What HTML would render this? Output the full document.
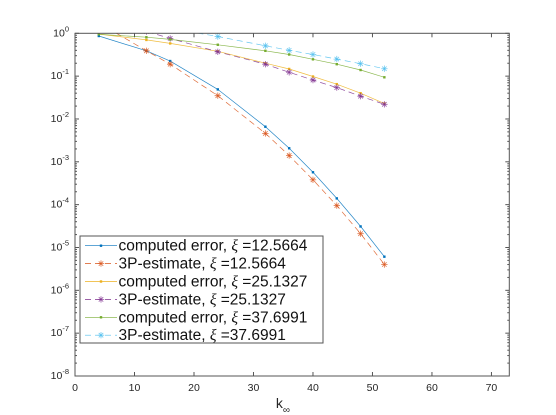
<!DOCTYPE html>
<html><head><meta charset="utf-8"><style>
html,body{margin:0;padding:0;background:#fff;}
svg{display:block;font-family:"Liberation Sans","DejaVu Sans",sans-serif;}
</style></head><body>
<svg id="chart" width="556" height="415" viewBox="0 0 556 415">
<defs><clipPath id="pc"><rect x="75" y="33.3" width="434.3" height="342.7"/></clipPath></defs>
<rect x="0" y="0" width="556" height="415" fill="#fff"/>
<g id="grid"></g>
<g id="series" clip-path="url(#pc)"></g>
<g id="axes"></g>
<g id="legend"></g>
</svg>
<script>
const xs = [4, 12, 16, 24, 32, 36, 40, 44, 48, 52];
const comp1 = [0.865, 0.39, 0.225, 0.049, 0.0066, 0.00207, 0.00057, 0.00014, 0.000031, 0.0000061];
const est1 = [1.75, 0.39, 0.19, 0.035, 0.0046, 0.0014, 0.00038, 0.000095, 0.000021, 0.000004];
const comp2 = [0.96, 0.70, 0.58, 0.38, 0.2, 0.147, 0.098, 0.065, 0.04, 0.023];
const est2 = [2.0, 1.1, 0.76, 0.37, 0.19, 0.123, 0.081, 0.054, 0.034, 0.022];
const comp3 = [0.95, 0.81, 0.72, 0.54, 0.39, 0.32, 0.247, 0.19, 0.139, 0.094];
const est3 = [2.5, 1.7, 1.3, 0.84, 0.51, 0.40, 0.32, 0.25, 0.195, 0.149];
const xTicks = [0, 10, 20, 30, 40, 50, 60, 70];
const yExps = [0, -1, -2, -3, -4, -5, -6, -7, -8];
const legendPrefix = ["computed error, ","3P-estimate, ","computed error, ","3P-estimate, ","computed error, ","3P-estimate, "];
const legendValues = ["12.5664","12.5664","25.1327","25.1327","37.6991","37.6991"];

const NS = "http://www.w3.org/2000/svg";
const X0 = 75, X1 = 509.3, XMAX = 73.0;
const Y0 = 33.3, Y1 = 376;
function sx(v){ return X0 + v / XMAX * (X1 - X0); }
function sy(v){ return Y0 + (-Math.log10(v)) / 8 * (Y1 - Y0); }
function mk(tag, attrs, parent){ const e = document.createElementNS(NS, tag); for (const k in attrs) e.setAttribute(k, attrs[k]); parent.appendChild(e); return e; }
function ts(parent, txt, attrs){ const t = document.createElementNS(NS,'tspan'); for (const k in (attrs||{})) t.setAttribute(k, attrs[k]); t.textContent = txt; parent.appendChild(t); return t; }
const axes = document.getElementById('axes');
const ser = document.getElementById('series');
const leg = document.getElementById('legend');
const AX = "#262626";

const box = mk('rect', {x:X0, y:Y0, width:X1-X0, height:Y1-Y0, fill:'none', stroke:'#555', 'stroke-width':1}, axes);



xTicks.forEach(t => {
  const x = sx(t);
  mk('line', {x1:x, y1:Y1, x2:x, y2:Y1-4, stroke:'#555'}, axes);
  mk('line', {x1:x, y1:Y0, x2:x, y2:Y0+4, stroke:'#555'}, axes);
  const tx = mk('text', {x:x, y:Y1+15, 'font-size':10.5, fill:AX, 'text-anchor':'middle'}, axes);
  tx.textContent = t;
  
  
});
yExps.forEach(e => {
  const y = sy(Math.pow(10, e));
  mk('line', {x1:X0, y1:y, x2:X0+4, y2:y, stroke:'#555'}, axes);
  mk('line', {x1:X1, y1:y, x2:X1-4, y2:y, stroke:'#555'}, axes);
  if (e > -8) for (let m = 2; m <= 9; m++) {
    const ym = sy(m * Math.pow(10, e - 1));
    mk('line', {x1:X0, y1:ym, x2:X0+2, y2:ym, stroke:'#555'}, axes);
    mk('line', {x1:X1, y1:ym, x2:X1-2, y2:ym, stroke:'#555'}, axes);
  }
  const tx = mk('text', {x:X0-6, y:y+3, 'font-size':10.5, fill:AX, 'text-anchor':'end'}, axes);
  
  
  ts(tx, '10');
  ts(tx, String(e), {dy:-5, 'font-size':7.5});
});
const xl = mk('text', {x:283, y:Y1+32, 'font-size':14, fill:AX, 'text-anchor':'middle'}, axes);


ts(xl, 'k');
ts(xl, '∞', {dy:5, 'font-size':10});

const seriesDefs = [
  {d:comp1, c:'#0072BD', dash:null, m:'dot', name:'computed-error-12'},
  {d:est1, c:'#D95319', dash:'6,4', m:'star', name:'estimate-12'},
  {d:comp2, c:'#EDB120', dash:null, m:'dot', name:'computed-error-25'},
  {d:est2, c:'#7E2F8E', dash:'6,4', m:'star', name:'estimate-25'},
  {d:comp3, c:'#77AC30', dash:null, m:'dot', name:'computed-error-37'},
  {d:est3, c:'#4DBEEE', dash:'6,4', m:'star', name:'estimate-37'}
];
function marker(g, x, y, c, m){
  if (m === 'dot') { mk('rect', {x:x-1.2, y:y-1.2, width:2.4, height:2.4, fill:c}, g); }
  else {
    const r = 3.2, p = [[-r,0,r,0],[0,-r,0,r],[-r*.7,-r*.7,r*.7,r*.7],[-r*.7,r*.7,r*.7,-r*.7]];
    p.forEach(q => mk('line', {x1:x+q[0], y1:y+q[1], x2:x+q[2], y2:y+q[3], stroke:c, 'stroke-width':0.8, 'stroke-opacity':0.8}, g));
  }
}
seriesDefs.forEach(s => {
  const g = mk('g', {}, ser);
  
  
  const pts = xs.map((x,i) => sx(x).toFixed(1) + ',' + sy(s.d[i]).toFixed(1)).join(' ');
  const a = {points:pts, fill:'none', stroke:s.c, 'stroke-width':0.7, 'stroke-opacity':0.85};
  if (s.dash) a['stroke-dasharray'] = s.dash;
  mk('polyline', a, g);
  xs.forEach((x,i) => marker(g, sx(x), sy(s.d[i]), s.c, s.m));
});

const lb = mk('rect', {x:80, y:236, width:243, height:107, fill:'#fff', stroke:'#555', 'stroke-width':1}, leg);


seriesDefs.forEach((s, i) => {
  const y = 245.7 + i * 17.9;
  const g = mk('g', {}, leg);
  
  
  const a = {x1:85, y1:y, x2:117, y2:y, stroke:s.c, 'stroke-width':0.7};
  if (s.dash) a['stroke-dasharray'] = s.dash;
  mk('line', a, g);
  marker(g, 101, y, s.c, s.m);
  const t = mk('text', {x:118.5, y:y+5, 'font-size':15.5, fill:'#111'}, g);
  ts(t, legendPrefix[i]);
  ts(t, 'ξ', {'font-style':'italic', 'font-family':'"Liberation Serif", serif'});
  ts(t, ' =' + legendValues[i]);
});
</script>
</body></html>
